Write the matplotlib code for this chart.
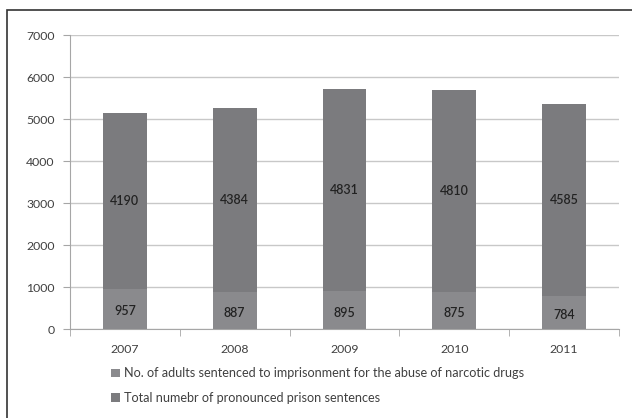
import matplotlib.pyplot as plt
from matplotlib.patches import Rectangle

plt.rcParams['font.family'] = ['Lato', 'DejaVu Sans']

years = ['2007', '2008', '2009', '2010', '2011']
drug_sentences = [957, 887, 895, 875, 784]
other_sentences = [4190, 4384, 4831, 4810, 4585]
yticks = [0, 1000, 2000, 3000, 4000, 5000, 6000, 7000]

label_drug = 'No. of adults sentenced to imprisonment for the abuse of narcotic drugs'
label_total = 'Total numebr of pronounced prison sentences'

fig = plt.figure(figsize=(6.32, 4.18), dpi=100)
ax = fig.add_axes([70 / 632, 89 / 418, 549 / 632, 294 / 418])

x = range(len(years))
b1 = ax.bar(x, drug_sentences, width=0.4, color='#8a8a8d', label=label_drug, zorder=3)
b2 = ax.bar(x, other_sentences, width=0.4, bottom=drug_sentences, color='#7b7b7e',
            label=label_total, zorder=3)

# value labels inside the segments
for i in x:
    ax.text(i, drug_sentences[i] / 2 - 60, str(drug_sentences[i]), ha='center', va='center',
            fontsize=9, fontweight='semibold', color='#222222', zorder=4)
    ax.text(i, drug_sentences[i] + other_sentences[i] / 2, str(other_sentences[i]),
            ha='center', va='center', fontsize=9, fontweight='semibold', color='#222222', zorder=4)

ax.set_xlim(-0.5, len(years) - 0.5)
ax.set_ylim(0, 7000)
ax.set_yticks(yticks)
ax.set_xticks(list(x))
ax.set_xticklabels(years)
ax.set_xticks([i + 0.5 for i in range(-1, len(years))], minor=True)
ax.tick_params(axis='x', which='major', length=0, pad=11, labelsize=8.8, labelcolor='#404040')
ax.tick_params(axis='x', which='minor', length=5, color='#a6a6a6', direction='out')
ax.tick_params(axis='y', length=5, color='#a6a6a6', pad=6, labelsize=8.8, labelcolor='#404040')
ax.grid(axis='y', color='#c8c8c8', linewidth=1, zorder=0)
for s in ['top', 'right']:
    ax.spines[s].set_visible(False)
for s in ['left', 'bottom']:
    ax.spines[s].set_color('#a6a6a6')

fig.legend([b1, b2], [label_drug, label_total], loc='upper left',
           bbox_to_anchor=(100 / 632, 1 - 356 / 418), frameon=False,
           fontsize=9.1, handlelength=0.7, handleheight=0.7, handletextpad=0.3,
           labelspacing=1.0, labelcolor='#404040')

# outer frame
fig.patches.append(Rectangle((7 / 632, -0.1), 1.1, 1 - 10 / 418 + 0.1,
                             transform=fig.transFigure, fill=False,
                             edgecolor='#333333', linewidth=1.2))

fig.savefig('out.png', dpi=100)
